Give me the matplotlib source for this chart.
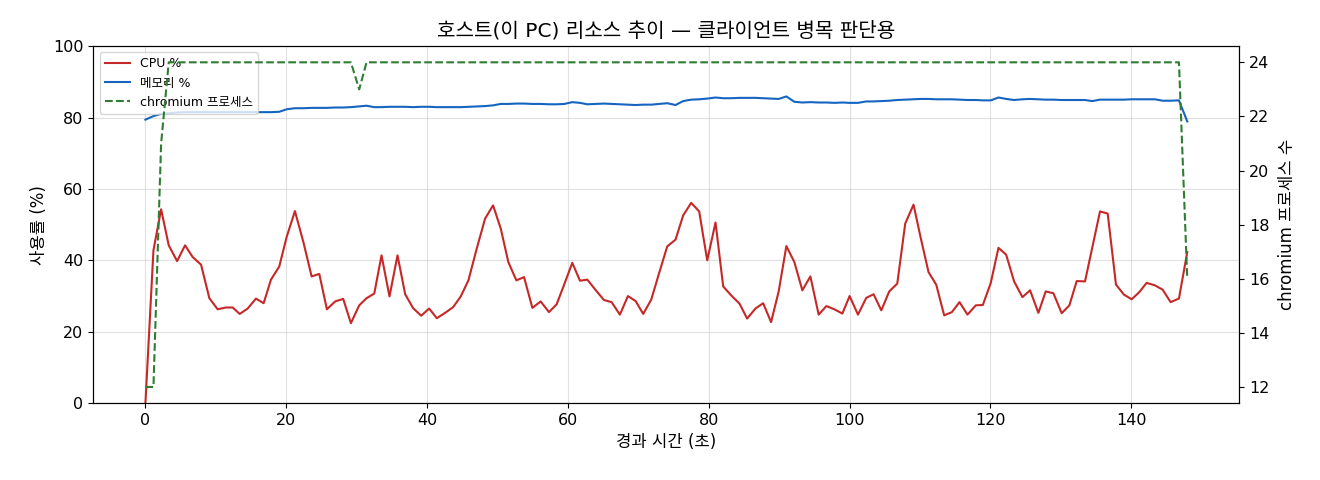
import matplotlib
matplotlib.use("Agg")
import matplotlib.pyplot as plt

# DejaVu for latin/digits (wide glyphs), Noto CJK KR for hangul
plt.rcParams['font.family'] = ['DejaVu Sans', 'Noto Sans CJK KR']
plt.rcParams['axes.unicode_minus'] = False

# elapsed seconds of each sample
elapsed = [
    0.0, 1.14, 2.23, 3.31, 4.50, 5.63, 6.72, 7.90, 9.08, 10.26,
    11.45, 12.39, 13.39, 14.52, 15.70, 16.79, 17.83, 19.01, 20.05, 21.23,
    22.46, 23.60, 24.69, 25.77, 26.95, 28.09, 29.18,
    30.36, 31.40, 32.50, 33.53, 34.66, 35.80, 36.89, 38.02, 39.16, 40.29,
    41.38, 42.56, 43.70, 44.78, 45.87, 47.05, 48.24, 49.37, 50.46, 51.54,
    52.68, 53.77, 54.95, 56.13, 57.31, 58.40, 59.50,
    60.62, 61.71, 62.75, 63.93, 65.11, 66.20, 67.38, 68.52, 69.61, 70.69,
    71.83, 72.96, 74.10, 75.28, 76.37, 77.50, 78.64, 79.78, 80.96, 82.05,
    83.18, 84.36, 85.45, 86.63, 87.72, 88.85,
    89.93, 91.02, 92.16, 93.29, 94.43, 95.61, 96.70, 97.83, 98.97, 100.0,
    101.19, 102.37, 103.41, 104.50, 105.63, 106.77, 107.90, 109.08, 110.12, 111.21,
    112.30, 113.43, 114.52, 115.61, 116.74, 117.92, 118.92,
    120.05, 121.14, 122.23, 123.36, 124.54, 125.63, 126.81, 127.85, 128.94, 130.12,
    131.21, 132.25, 133.43, 134.47, 135.56, 136.65, 137.83, 138.96, 140.05, 141.14,
    142.18, 143.36, 144.45, 145.59, 146.77, 147.95,
]

cpu = [
    0.0, 42.8, 54.3, 44.2, 39.8, 44.2, 40.9, 38.8, 29.4, 26.3,
    26.8, 26.8, 25.0, 26.5, 29.3, 28.0, 34.6, 38.3, 46.5, 53.8,
    44.9, 35.5, 36.2, 26.3, 28.5, 29.2, 22.4,
    27.4, 29.4, 30.7, 41.4, 29.9, 41.4, 30.5, 26.6, 24.5, 26.5,
    23.8, 25.3, 26.9, 29.9, 34.4, 43.3, 51.7, 55.4, 48.9, 39.5,
    34.4, 35.3, 26.7, 28.5, 25.5, 27.7, 33.4,
    39.3, 34.3, 34.6, 31.7, 28.9, 28.3, 24.8, 30.0, 28.6, 25.0,
    29.0, 36.5, 43.9, 45.8, 52.6, 56.1, 53.7, 40.0, 50.6, 32.7,
    30.2, 27.9, 23.7, 26.5, 28.0, 22.7,
    31.3, 44.0, 39.5, 31.6, 35.5, 24.8, 27.2, 26.3, 25.1, 30.0,
    24.8, 29.5, 30.5, 26.0, 31.3, 33.5, 50.3, 55.6, 46.1, 36.7,
    33.2, 24.6, 25.5, 28.3, 24.8, 27.4, 27.5,
    33.7, 43.5, 41.6, 34.1, 29.7, 31.6, 25.3, 31.3, 30.8, 25.2,
    27.4, 34.2, 34.1, 43.7, 53.7, 53.1, 33.2, 30.4, 29.1, 31.1,
    33.7, 33.0, 31.8, 28.3, 29.3, 42.3,
]

memory = [
    79.4, 80.4, 81.0, 81.2, 81.4, 81.5, 81.5, 81.5, 81.5, 81.5,
    81.5, 81.5, 81.5, 81.5, 81.5, 81.5, 81.5, 81.6, 82.3, 82.6,
    82.6, 82.7, 82.7, 82.7, 82.8, 82.8, 82.9,
    83.1, 83.3, 82.9, 82.9, 83.0, 83.0, 83.0, 82.9, 83.0, 83.0,
    82.9, 82.9, 82.9, 82.9, 83.0, 83.1, 83.2, 83.4, 83.8, 83.8,
    83.9, 83.9, 83.8, 83.8, 83.7, 83.7, 83.8,
    84.3, 84.1, 83.7, 83.8, 83.9, 83.8, 83.7, 83.6, 83.5, 83.6,
    83.6, 83.8, 84.0, 83.5, 84.6, 85.0, 85.1, 85.3, 85.6, 85.4,
    85.4, 85.5, 85.5, 85.5, 85.4, 85.3,
    85.2, 85.9, 84.4, 84.2, 84.3, 84.2, 84.2, 84.1, 84.2, 84.1,
    84.1, 84.5, 84.5, 84.6, 84.7, 84.9, 85.0, 85.1, 85.2, 85.2,
    85.1, 85.1, 85.1, 85.0, 84.9, 84.9, 84.8,
    84.8, 85.6, 85.2, 84.9, 85.1, 85.2, 85.1, 85.0, 85.0, 84.9,
    84.9, 84.9, 84.9, 84.6, 85.0, 85.0, 85.0, 85.0, 85.1, 85.1,
    85.1, 85.1, 84.7, 84.7, 84.8, 78.9,
]

chromium = [
    12, 12, 21, 24, 24, 24, 24, 24, 24, 24,
    24, 24, 24, 24, 24, 24, 24, 24, 24, 24,
    24, 24, 24, 24, 24, 24, 24,
    23, 24, 24, 24, 24, 24, 24, 24, 24, 24,
    24, 24, 24, 24, 24, 24, 24, 24, 24, 24,
    24, 24, 24, 24, 24, 24, 24,
    24, 24, 24, 24, 24, 24, 24, 24, 24, 24,
    24, 24, 24, 24, 24, 24, 24, 24, 24, 24,
    24, 24, 24, 24, 24, 24,
    24, 24, 24, 24, 24, 24, 24, 24, 24, 24,
    24, 24, 24, 24, 24, 24, 24, 24, 24, 24,
    24, 24, 24, 24, 24, 24, 24,
    24, 24, 24, 24, 24, 24, 24, 24, 24, 24,
    24, 24, 24, 24, 24, 24, 24, 24, 24, 24,
    24, 24, 24, 24, 24, 16,
]

fig = plt.figure(figsize=(13.2, 4.8), dpi=100)
ax = fig.add_axes([0.0707, 0.160, 0.8682, 0.744])
ax2 = ax.twinx()

l1, = ax.plot(elapsed, cpu, color='#c62828', linewidth=1.5, label='CPU %')
l2, = ax.plot(elapsed, memory, color='#1565c0', linewidth=1.5, label='메모리 %')
l3, = ax2.plot(elapsed, chromium, color='#2e7d32', linewidth=1.5,
               linestyle='--', label='chromium 프로세스')

ax.set_ylim(0, 100)
ax.set_yticks([0, 20, 40, 60, 80, 100])
ax2.set_yticks([12, 14, 16, 18, 20, 22, 24])
ax.grid(True, color='#cccccc', alpha=0.6, linewidth=0.8)

ax.set_title('호스트(이 PC) 리소스 추이 — 클라이언트 병목 판단용', fontsize=14.5, pad=7)
ax.set_xlabel('경과 시간 (초)', fontsize=12)
ax.set_ylabel('사용률 (%)', fontsize=12)
ax2.set_ylabel('chromium 프로세스 수', fontsize=12, labelpad=6)
ax.tick_params(labelsize=11.5)
ax2.tick_params(labelsize=11.5)

ax.legend(handles=[l1, l2, l3], loc='upper left', fontsize=9)

fig.savefig('out.png', dpi=100)
